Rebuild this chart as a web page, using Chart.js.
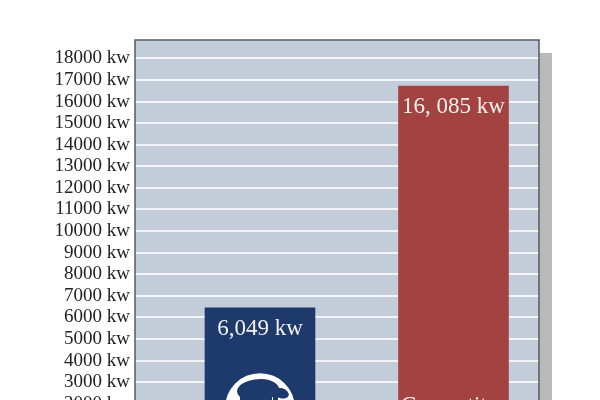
<!DOCTYPE html>
<html>
<head>
<meta charset="utf-8">
<script src="https://cdn.jsdelivr.net/npm/chart.js@4.4.1/dist/chart.umd.min.js"></script>
<style>
  html, body { margin: 0; padding: 0; background: #fff; overflow: hidden; }
  #clip { width: 600px; height: 400px; overflow: hidden; }
  #box { width: 600px; height: 470px; }
</style>
</head>
<body>
<div id="clip"><div id="box"><canvas id="chart"></canvas></div></div>
<script>
// values (bar heights) and the printed labels
const companies = ['Ours', 'Competitor'];
const positions = [1, 2];
const power = [6440, 16720];
const powerLabels = ['6,049 kw', '16, 085 kw'];
const barColors = ['#1e3a6d', '#a34341'];
const yTicks = [0, 1000, 2000, 3000, 4000, 5000, 6000, 7000, 8000, 9000,
  10000, 11000, 12000, 13000, 14000, 15000, 16000, 17000, 18000];

const serif = '"Liberation Serif", "DejaVu Serif", serif';

const panel = {
  id: 'panel',
  beforeDraw(chart) {
    const { ctx, chartArea: a } = chart;
    ctx.save();
    ctx.fillStyle = '#b9b9b9';
    ctx.fillRect(a.left + 13, a.top + 13, a.right - a.left, a.bottom - a.top);
    ctx.fillStyle = '#c3cdda';
    ctx.fillRect(a.left, a.top, a.right - a.left, a.bottom - a.top);
    ctx.restore();
  },
  afterDatasetsDraw(chart) {
    const { ctx, chartArea: a } = chart;
    const y = chart.scales.y;
    const bars = chart.getDatasetMeta(0).data;
    ctx.save();
    ctx.fillStyle = '#f4f1ec';
    ctx.textAlign = 'center';
    ctx.textBaseline = 'middle';
    ctx.font = '23px ' + serif;
    bars.forEach((b, i) => {
      ctx.fillText(powerLabels[i], b.x, b.y + 21);
    });

    // logo circle with a bear on our bar
    const b0 = bars[0];
    const cy = y.getPixelForValue(1800);
    ctx.beginPath();
    ctx.arc(b0.x, cy, 35, 0, Math.PI * 2);
    ctx.fillStyle = '#ffffff';
    ctx.fill();
    ctx.fillStyle = '#1e3a6d';
    ctx.beginPath();
    ctx.ellipse(b0.x - 2, cy - 18, 21, 11, -0.08, 0, Math.PI * 2);
    ctx.fill();
    ctx.beginPath();
    ctx.ellipse(b0.x + 21, cy - 15, 8, 5, 0.3, 0, Math.PI * 2);
    ctx.fill();
    ctx.fillRect(b0.x - 20, cy - 16, 7, 24);
    ctx.fillRect(b0.x - 9, cy - 14, 6, 22);
    ctx.fillRect(b0.x + 6, cy - 14, 6, 22);
    ctx.fillRect(b0.x + 13, cy - 16, 5, 22);

    // competitor caption
    const b1 = bars[1];
    ctx.fillStyle = '#f4f1ec';
    ctx.font = '23px ' + serif;
    ctx.fillText('Competitor', b1.x, y.getPixelForValue(1900));

    ctx.strokeStyle = '#555b63';
    ctx.lineWidth = 1.5;
    ctx.strokeRect(a.left, a.top, a.right - a.left, a.bottom - a.top);
    ctx.restore();
  }
};

new Chart(document.getElementById('chart'), {
  type: 'bar',
  data: {
    datasets: [{
      label: 'Power',
      data: positions.map((p, i) => ({ x: p, y: power[i] })),
      backgroundColor: barColors,
      barThickness: 110,
      borderWidth: 0
    }]
  },
  options: {
    responsive: true,
    maintainAspectRatio: false,
    animation: false,
    layout: { padding: { top: 40, right: 61, bottom: 23, left: 0 } },
    plugins: {
      legend: { display: false },
      tooltip: { enabled: false }
    },
    scales: {
      x: {
        type: 'linear',
        offset: false,
        min: 0.354,
        max: 2.442,
        display: false
      },
      y: {
        min: 0,
        max: 18850,
        afterBuildTicks(scale) {
          scale.ticks = yTicks.map(v => ({ value: v }));
        },
        afterFit(scale) { scale.width = 135; },
        border: { display: false },
        grid: { color: '#f2f4f7', lineWidth: 2, drawTicks: false },
        ticks: {
          autoSkip: false,
          padding: 5,
          color: '#222222',
          font: { family: serif, size: 19 },
          callback: v => v + ' kw'
        }
      }
    }
  },
  plugins: [panel]
});
</script>
</body>
</html>
